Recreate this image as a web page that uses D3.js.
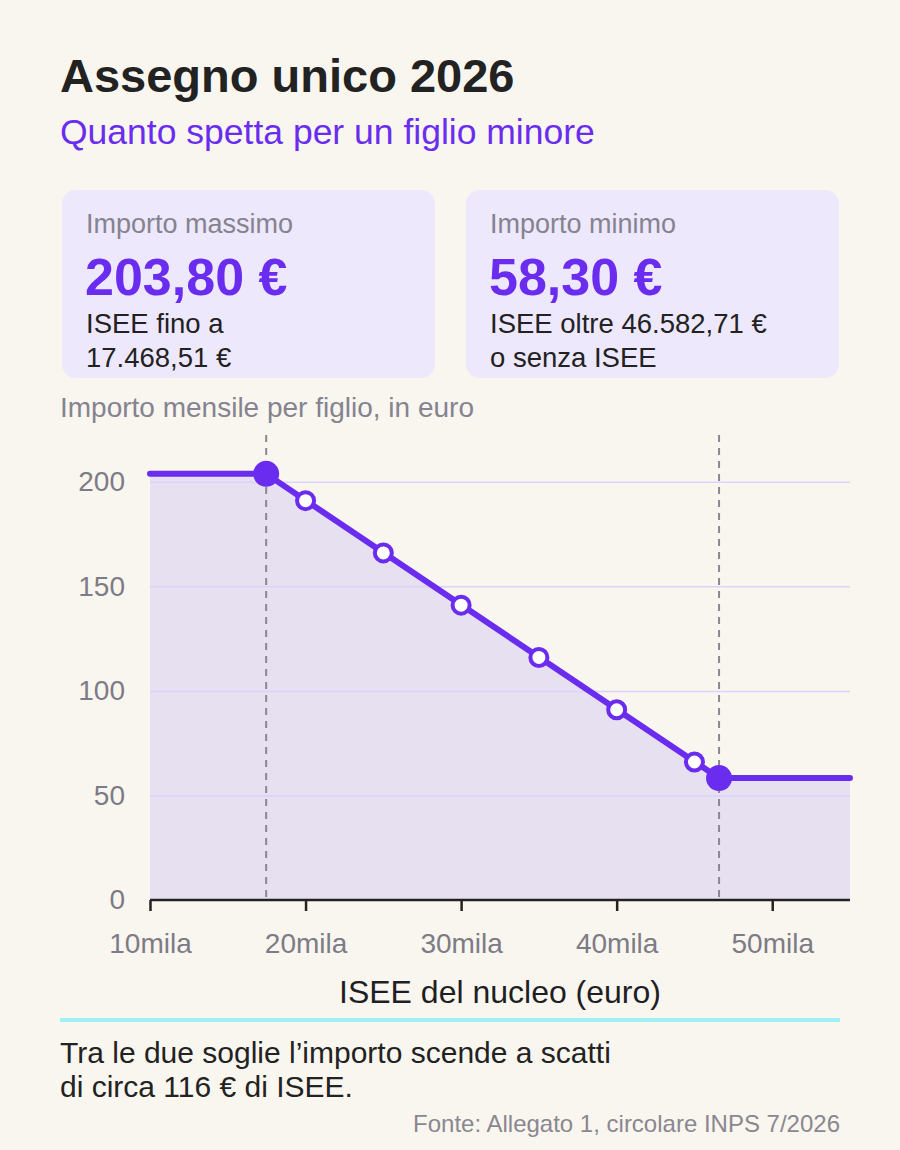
<!DOCTYPE html>
<html>
<head>
<meta charset="utf-8">
<script src="https://cdn.jsdelivr.net/npm/d3@7"></script>
<style>
	body { margin: 0; background: #f9f6ef; }
	svg { display: block; font-family: "Liberation Sans", Arial, sans-serif; }
</style>
</head>
<body>
<div class="main"></div>
<script>
//data
const kinkIsee = [10000, 17468.51, 46582.71, 55000];
const kinkAmount = [203.8, 203.8, 58.3, 58.3];
const stepIsee = [20000, 25000, 30000, 35000, 40000, 45000];
const stepAmount = [191, 166, 141, 116, 91, 66];
const thresholds = [17468.51, 46582.71];
const yTicks = [0, 50, 100, 150, 200];
const xTicks = [10000, 20000, 30000, 40000, 50000];

const cards = [
	{label: 'Importo massimo', value: '203,80 €', lines: ['ISEE fino a', '17.468,51 €']},
	{label: 'Importo minimo', value: '58,30 €', lines: ['ISEE oltre 46.582,71 €', 'o senza ISEE']}
];

const PURPLE = '#6a2df0';
const FONT = '"Liberation Sans", Arial, sans-serif';
const width = 900;
const height = 1150;

const svg = d3.select('.main')
	.append('svg')
	.attr('width', width)
	.attr('height', height);

svg.append('rect')
	.attr('width', width)
	.attr('height', height)
	.style('fill', '#f9f6ef');

//title
svg.append('text')
	.attr('x', 60)
	.attr('y', 92)
	.text('Assegno unico 2026')
	.style('font-size', '47px')
	.style('font-weight', 'bold')
	.style('fill', '#222');

svg.append('text')
	.attr('x', 60)
	.attr('y', 144)
	.text('Quanto spetta per un figlio minore')
	.style('font-size', '35.5px')
	.style('fill', PURPLE);

//cards
const card = svg.selectAll('g.card')
	.data(cards)
	.join('g')
	.attr('class', 'card')
	.attr('transform', (d, i) => 'translate(' + (62 + i * 404) + ',190)');

card.append('rect')
	.attr('width', 373)
	.attr('height', 188)
	.attr('rx', 14)
	.style('fill', '#ede8fc');

card.append('text')
	.attr('x', 24)
	.attr('y', 43)
	.text(d => d.label)
	.style('font-size', '27px')
	.style('fill', '#858390');

card.append('text')
	.attr('x', 23)
	.attr('y', 105)
	.text(d => d.value)
	.style('font-size', '52px')
	.style('font-weight', 'bold')
	.style('fill', PURPLE);

card.each(function(d) {
	d3.select(this).selectAll('text.desc')
		.data(d.lines)
		.join('text')
		.attr('class', 'desc')
		.attr('x', 24)
		.attr('y', (l, j) => 143 + j * 34)
		.text(l => l)
		.style('font-size', '27.5px')
		.style('fill', '#222');
});

svg.append('text')
	.attr('x', 60)
	.attr('y', 417)
	.text('Importo mensile per figlio, in euro')
	.style('font-size', '28px')
	.style('fill', '#858390');

//chart
const x = d3.scaleLinear().domain([10000, 55000]).range([150, 850]);
const y = d3.scaleLinear().domain([0, 220]).range([900, 440]);

const kinks = kinkIsee.map((v, i) => ({isee: v, amount: kinkAmount[i]}));
const steps = stepIsee.map((v, i) => ({isee: v, amount: stepAmount[i]}));

const area = d3.area()
	.x(d => x(d.isee))
	.y0(y(0))
	.y1(d => y(d.amount));

svg.append('path')
	.datum(kinks)
	.attr('d', area)
	.style('fill', '#e7e0f1');

//grid
svg.append('g')
	.attr('transform', 'translate(150,0)')
	.call(d3.axisLeft(y).tickValues(yTicks.slice(1)).tickSize(-700).tickFormat(''))
	.call(g => g.select('.domain').remove())
	.selectAll('line')
	.style('stroke', '#ddd2fa')
	.style('stroke-width', '1.5px');

//y labels
svg.append('g')
	.attr('transform', 'translate(150,0)')
	.call(d3.axisLeft(y).tickValues(yTicks).tickSize(0).tickPadding(25))
	.call(g => g.select('.domain').remove())
	.selectAll('text')
	.style('font-size', '28px')
	.style('font-family', FONT)
	.style('fill', '#7d7b85');

//threshold dashes
svg.selectAll('line.thr')
	.data(thresholds)
	.join('line')
	.attr('class', 'thr')
	.attr('x1', d => x(d))
	.attr('x2', d => x(d))
	.attr('y1', 435)
	.attr('y2', y(0))
	.style('stroke', '#8a8790')
	.style('stroke-width', '2px')
	.style('stroke-dasharray', '7,6');

//x axis
const xAxis = svg.append('g')
	.attr('transform', 'translate(0,' + y(0) + ')')
	.call(d3.axisBottom(x).tickValues(xTicks).tickSize(11).tickPadding(22)
		.tickFormat(d => (d / 1000) + 'mila'))
	.call(g => g.select('.domain').attr('d', 'M150,0H850'));

xAxis.selectAll('line, .domain')
	.style('stroke', '#222')
	.style('stroke-width', '2.5px');
xAxis.selectAll('text')
	.style('font-size', '28px')
	.style('font-family', FONT)
	.style('fill', '#7d7b85');

svg.append('text')
	.attr('x', 500)
	.attr('y', 1003)
	.attr('text-anchor', 'middle')
	.text('ISEE del nucleo (euro)')
	.style('font-size', '32px')
	.style('fill', '#1e1e24');

//line
svg.append('path')
	.datum(kinks)
	.attr('d', d3.line().x(d => x(d.isee)).y(d => y(d.amount)))
	.style('fill', 'none')
	.style('stroke', PURPLE)
	.style('stroke-width', '6px')
	.style('stroke-linecap', 'round')
	.style('stroke-linejoin', 'round');

svg.selectAll('circle.step')
	.data(steps)
	.join('circle')
	.attr('class', 'step')
	.attr('cx', d => x(d.isee))
	.attr('cy', d => y(d.amount))
	.attr('r', 8.5)
	.style('fill', '#fff')
	.style('stroke', PURPLE)
	.style('stroke-width', '4px');

svg.selectAll('circle.kink')
	.data(kinks.slice(1, 3))
	.join('circle')
	.attr('class', 'kink')
	.attr('cx', d => x(d.isee))
	.attr('cy', d => y(d.amount))
	.attr('r', 13)
	.style('fill', PURPLE);

//footer
svg.append('line')
	.attr('x1', 60)
	.attr('x2', 840)
	.attr('y1', 1020)
	.attr('y2', 1020)
	.style('stroke', '#9ef1f5')
	.style('stroke-width', '4px');

const notes = ['Tra le due soglie l\u2019importo scende a scatti', 'di circa 116 € di ISEE.'];
svg.selectAll('text.note')
	.data(notes)
	.join('text')
	.attr('class', 'note')
	.attr('x', 60)
	.attr('y', (d, i) => 1063 + i * 34)
	.text(d => d)
	.style('font-size', '30px')
	.style('fill', '#222');

svg.append('text')
	.attr('x', 840)
	.attr('y', 1132)
	.attr('text-anchor', 'end')
	.text('Fonte: Allegato 1, circolare INPS 7/2026')
	.style('font-size', '24px')
	.style('fill', '#8a8790');
</script>
</body>
</html>
